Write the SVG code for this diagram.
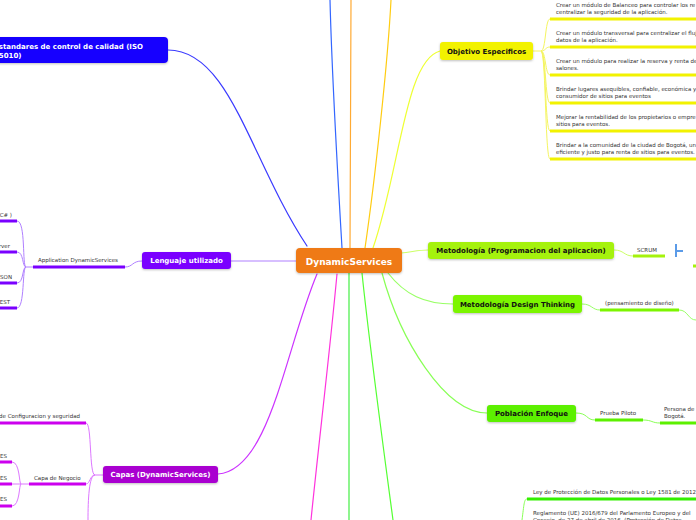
<svg xmlns="http://www.w3.org/2000/svg" width="696" height="520" viewBox="0 0 696 520">
<style>
.nt{font-family:"DejaVu Sans",Verdana,sans-serif;font-weight:bold;font-size:7px}
.w{fill:#ffffff}
.k{fill:#111111}
.st{font-family:"DejaVu Sans",Verdana,sans-serif;font-size:5.5px;fill:#333333}
.c{fill:none;stroke-width:1.2;stroke-linecap:round}
.u{fill:none;stroke-width:3;stroke-linecap:butt}
.b{fill:none;stroke-width:1}
</style>
<defs>
<filter id="sh" x="-10%" y="-20%" width="120%" height="160%">
<feDropShadow dx="0" dy="1" stdDeviation="0.8" flood-color="#000" flood-opacity="0.25"/>
</filter>
</defs>
<rect width="696" height="520" fill="#ffffff"/>

<g id="connectors">
<path class="c" stroke="#3366FF" d="M342,248 C338,180 332,80 330,0"/>
<path class="c" stroke="#FFAA33" d="M350,248 L351,0"/>
<path class="c" stroke="#FFCC11" d="M365,248 C375,180 388,60 391,0"/>
<path class="c" stroke="#EEFF33" d="M373,248 C400,170 405,60 440,51"/>
<path class="c" stroke="#3A3AFF" d="M168,50 C230,50 250,160 307,246"/>
<path class="c" stroke="#B080FF" d="M231,261 L296,261"/>
<path class="c" stroke="#CC33FF" d="M317,274 C285,350 270,470 218,474"/>
<path class="c" stroke="#FF33DD" d="M337,274 C330,350 318,450 311,520"/>
<path class="c" stroke="#44EE44" d="M349,273 L349,520"/>
<path class="c" stroke="#55FF33" d="M362,273 C370,350 385,460 393,520"/>
<path class="c" stroke="#CCFF66" d="M401,253 C412,252 418,250 428,250"/>
<path class="c" stroke="#99FF66" d="M388,273 C405,295 425,304 453,304"/>
<path class="c" stroke="#88FF55" d="M382,273 C400,340 445,413 487,413"/>

<path class="b" stroke="#F5F560" d="M532,51 L541,51"/>
<path class="b" stroke="#F5F560" d="M541,51 C546,51 545,19 550,19"/>
<path class="b" stroke="#F5F560" d="M541,51 C546,51 545,47 550,47"/>
<path class="b" stroke="#F5F560" d="M541,51 C546,51 545,75 550,75"/>
<path class="b" stroke="#F5F560" d="M541,51 C546,51 545,103 550,103"/>
<path class="b" stroke="#F5F560" d="M541,51 C546,51 545,131 550,131"/>
<path class="b" stroke="#F5F560" d="M541,51 C546,51 545,159 550,159"/>

<path class="b" stroke="#CCFF66" d="M614,250 C624,250 624,256 633,256"/>
<path fill="none" stroke="#5B9BE8" stroke-width="2" d="M676,244 L676,257 M676,251 L683,251"/>
<path fill="none" stroke="#A5F20C" stroke-width="3" d="M693,266 L696,266"/>
<path class="b" stroke="#99FF66" d="M582,304 C592,304 592,310 600,310"/>
<path class="b" stroke="#99FF66" d="M679,310 C688,310 688,320 696,320"/>
<path class="b" stroke="#88FF55" d="M576,413 C588,413 586,420 595,420"/>
<path class="b" stroke="#88FF55" d="M643,420 C652,420 652,423 660,423"/>

<path class="b" stroke="#B080FF" d="M142,261 C132,261 133,267 125,267"/>
<path class="b" stroke="#B080FF" d="M33,267 L26,267 C22,267 26,221 17,221 M26,267 C22,267 24,252 17,252 M26,267 C22,267 24,283 17,283 M26,267 C22,267 25,308 17,308"/>

<path class="b" stroke="#DD77FF" d="M103,475 L95,475 C89,475 92,423 86,423 M95,475 C90,475 90,484 86,484 M95,475 C89,475 88,500 88,520"/>
<path class="b" stroke="#DD77FF" d="M29,484 L21,484 C19,484 20,462 12,462 M21,484 L12,484 M21,484 C19,484 20,506 12,506"/>

<path class="b" stroke="#88FF55" d="M522,520 C524,505 524,499 527,499"/>
</g>

<g id="underlines">
<path class="u" stroke="#F2F200" d="M550,19 H696 M550,47 H696 M550,75 H696 M550,103 H696 M550,131 H696 M550,159 H696"/>
<path class="u" stroke="#A5F20C" d="M633,256 H665"/>
<path class="u" stroke="#7CF500" d="M600,310 H679"/>
<path class="u" stroke="#5CF000" d="M595,420 H643 M660,423 H696"/>
<path class="u" stroke="#7A00FF" d="M33,267 H125 M0,221 H17 M0,252 H17 M0,283 H17 M0,308 H17"/>
<path class="u" stroke="#CC00EE" d="M0,423 H86 M29,484 H86 M0,462 H12 M0,484 H12 M0,506 H12"/>
<path class="u" stroke="#33F000" d="M527,499 H696"/>
</g>

<g id="center">
<rect x="296" y="248" width="106" height="25" rx="4" fill="#EF7A14" filter="url(#sh)"/>
<text class="nt w" x="349" y="265" text-anchor="middle" style="font-size:9px">DynamicServices</text>
</g>

<g id="iso">
<rect x="-10" y="37" width="178" height="26" rx="4" fill="#1800FF" filter="url(#sh)"/>
<text class="nt w" x="-6" y="49">Estandares de control de calidad (ISO</text>
<text class="nt w" x="-6" y="57.5">25010)</text>
</g>

<g id="objetivo">
<rect x="440" y="42" width="93" height="18" rx="3" fill="#F2F200" filter="url(#sh)"/>
<text class="nt k" x="486.5" y="53.5" text-anchor="middle">Objetivo Especificos</text>
</g>

<g id="objetivo-items">
<text class="st" x="556" y="7">Crear un módulo de Balanceo para controlar los re</text>
<text class="st" x="556" y="14">centralizar la seguridad de la aplicación.</text>
<text class="st" x="556" y="35">Crear un módulo transversal para centralizar el flujo</text>
<text class="st" x="556" y="42">datos de la aplicación.</text>
<text class="st" x="556" y="63">Crear un módulo para realizar la reserva y renta de</text>
<text class="st" x="556" y="70">salones.</text>
<text class="st" x="556" y="91">Brindar lugares asequibles, confiable, económica y</text>
<text class="st" x="556" y="98">consumidor de sitios para eventos</text>
<text class="st" x="556" y="119">Mejorar la rentabilidad de los propietarios o empre</text>
<text class="st" x="556" y="126">sitios para eventos.</text>
<text class="st" x="556" y="147">Brindar a la comunidad de la ciudad de Bogotá, un</text>
<text class="st" x="556" y="154">eficiente y justo para renta de sitios para eventos.</text>
</g>

<g id="metodologia">
<rect x="428" y="242" width="186" height="17" rx="3" fill="#A5F20C" filter="url(#sh)"/>
<text class="nt k" x="521" y="253" text-anchor="middle">Metodología (Programacion  del aplicacion)</text>
</g>
<g id="scrum">
<text class="st" x="637" y="252">SCRUM</text>
</g>

<g id="design-thinking">
<rect x="453" y="295" width="129" height="18" rx="3" fill="#7CF500" filter="url(#sh)"/>
<text class="nt k" x="517.5" y="306.5" text-anchor="middle">Metodología Design Thinking</text>
</g>
<g id="pensamiento">
<text class="st" x="605" y="305">(pensamiento de diseño)</text>
</g>

<g id="poblacion">
<rect x="487" y="405" width="89" height="17" rx="3" fill="#5CF000" filter="url(#sh)"/>
<text class="nt k" x="531.5" y="416" text-anchor="middle">Población Enfoque</text>
</g>
<g id="prueba">
<text class="st" x="600" y="415">Prueba Piloto</text>
</g>
<g id="persona">
<text class="st" x="664" y="411">Persona de</text>
<text class="st" x="664" y="418">Bogotá.</text>
</g>

<g id="lenguaje">
<rect x="142" y="252" width="89" height="17" rx="3" fill="#7A00FF" filter="url(#sh)"/>
<text class="nt w" x="186.5" y="263" text-anchor="middle">Lenguaje utilizado</text>
</g>
<g id="application">
<text class="st" x="38" y="262">Application  DynamicServices</text>
</g>
<g id="lenguaje-items">
<text class="st" x="12" y="217" text-anchor="end">C# )</text>
<text class="st" x="10" y="248" text-anchor="end">rver</text>
<text class="st" x="12" y="279" text-anchor="end">SON</text>
<text class="st" x="10" y="304" text-anchor="end">EST</text>
</g>

<g id="capas">
<rect x="103" y="466" width="115" height="17" rx="3" fill="#A900D0" filter="url(#sh)"/>
<text class="nt w" x="160.5" y="477" text-anchor="middle">Capas (DynamicServices)</text>
</g>
<g id="capa-config">
<text class="st" x="80" y="418" text-anchor="end">de Configuracion y seguridad</text>
</g>
<g id="capa-negocio">
<text class="st" x="34" y="480">Capa de Negocio</text>
</g>
<g id="capa-items">
<text class="st" x="7" y="458" text-anchor="end">ES</text>
<text class="st" x="7" y="480" text-anchor="end">ES</text>
<text class="st" x="7" y="501" text-anchor="end">ES</text>
</g>

<g id="ley">
<text class="st" x="533" y="494">Ley de Protección de Datos Personales o Ley 1581 de 2012</text>
</g>
<g id="reglamento">
<text class="st" x="533" y="515">Reglamento (UE) 2016/679 del Parlamento Europeo y del</text>
<text class="st" x="533" y="522">Consejo, de 27 de abril de 2016, (Protección de Datos</text>
</g>
</svg>
